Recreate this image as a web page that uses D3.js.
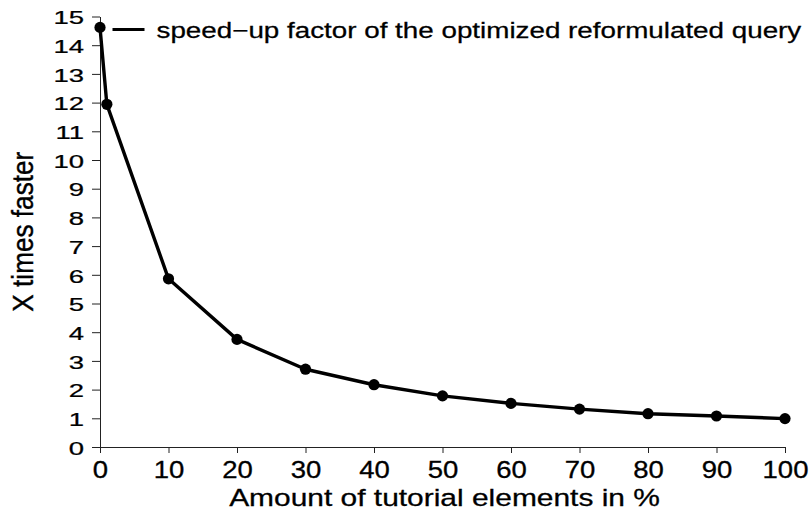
<!DOCTYPE html>
<html>
<head>
<meta charset="utf-8">
<script src="https://cdn.jsdelivr.net/npm/d3@7"></script>
<style>
  html, body { margin: 0; padding: 0; background: #fff; }
  svg { display: block; }
  text { font-family: "Liberation Sans", Arial, Helvetica, sans-serif; fill: #000; stroke: #000; stroke-width: 0.35px; }
</style>
</head>
<body>
<svg id="chart" width="812" height="524"></svg>
<script>
// ---- data ----
const xValues = [0, 1, 10, 20, 30, 40, 50, 60, 70, 80, 90, 100];
const speedup = [14.62, 11.94, 5.86, 3.75, 2.71, 2.17, 1.78, 1.52, 1.32, 1.16, 1.08, 0.99];
const xTicks = [0, 10, 20, 30, 40, 50, 60, 70, 80, 90, 100];
const yTicks = [0, 1, 2, 3, 4, 5, 6, 7, 8, 9, 10, 11, 12, 13, 14, 15];
const seriesName = "speed\u2212up factor of the optimized reformulated query";
const xTitle = "Amount of tutorial elements in %";
const yTitle = "X times faster";

// ---- layout ----
const svg = d3.select("#chart");
const xScale = d3.scaleLinear().domain([0, 100]).range([100, 785]);
const yScale = d3.scaleLinear().domain([0, 15]).range([447, 16.5]);

// fit helper: set font size for a target width, return vertical scale for target cap height
function fit(sel, targetW, targetCap) {
  const w = sel.node().getComputedTextLength();
  const fs = parseFloat(sel.attr("font-size"));
  const nfs = fs * targetW / w;
  sel.attr("font-size", nfs);
  return targetCap / (0.716 * nfs);
}

// x axis
const xAxis = svg.append("g")
  .attr("transform", `translate(0,${yScale(0)})`)
  .call(d3.axisBottom(xScale).tickValues(xTicks).tickSize(6).tickSizeOuter(0));
xAxis.selectAll("text")
  .attr("font-size", 27.5).attr("font-family", null)
  .attr("y", 0).attr("dy", 0)
  .attr("transform", "translate(0,31.3) scale(1,0.85)");
xAxis.select(".domain").attr("stroke", "#222");
xAxis.selectAll(".tick line").attr("stroke", "#222");

// y axis
const yAxis = svg.append("g")
  .attr("transform", `translate(${xScale(0)},0)`)
  .call(d3.axisLeft(yScale).tickValues(yTicks).tickSize(8).tickSizeOuter(0));
yAxis.selectAll("text")
  .attr("font-size", 27.5).attr("font-family", null)
  .attr("x", -16).attr("dy", 0)
  .attr("transform", "translate(0,7.2) scale(1,0.67)");
yAxis.select(".domain").attr("stroke", "#222");
yAxis.selectAll(".tick line").attr("stroke", "#222");

// line
const data = xValues.map((v, i) => ({ x: v, y: speedup[i] }));
const line = d3.line().x(d => xScale(d.x)).y(d => yScale(d.y));
svg.append("path").datum(data)
  .attr("d", line)
  .attr("fill", "none")
  .attr("stroke", "#000")
  .attr("stroke-width", 3.4)
  .attr("stroke-linejoin", "round");

svg.append("g").selectAll("circle").data(data).join("circle")
  .attr("cx", d => xScale(d.x))
  .attr("cy", d => yScale(d.y))
  .attr("r", 5.6)
  .attr("fill", "#000");

// legend
const leg = svg.append("g");
leg.append("line")
  .attr("x1", 112.5).attr("x2", 144.5)
  .attr("y1", 29.5).attr("y2", 29.5)
  .attr("stroke", "#000").attr("stroke-width", 3.2);
const legText = leg.append("text").attr("font-size", 22).text(seriesName);
const legSy = fit(legText, 645, 15.2);
legText.attr("transform", `translate(156.5,38.3) scale(1,${legSy})`);

// x title
const xt = svg.append("text").attr("font-size", 26).attr("text-anchor", "middle").text(xTitle);
const xtSy = fit(xt, 431, 17.5);
xt.attr("transform", `translate(444.5,505.5) scale(1,${xtSy})`);

// y title
const yt = svg.append("text").attr("font-size", 26).attr("text-anchor", "middle").text(yTitle);
const ytSy = fit(yt, 160, 20.6);
yt.attr("transform", `translate(33.3,231.7) rotate(-90) scale(1,${ytSy})`);
</script>
</body>
</html>
